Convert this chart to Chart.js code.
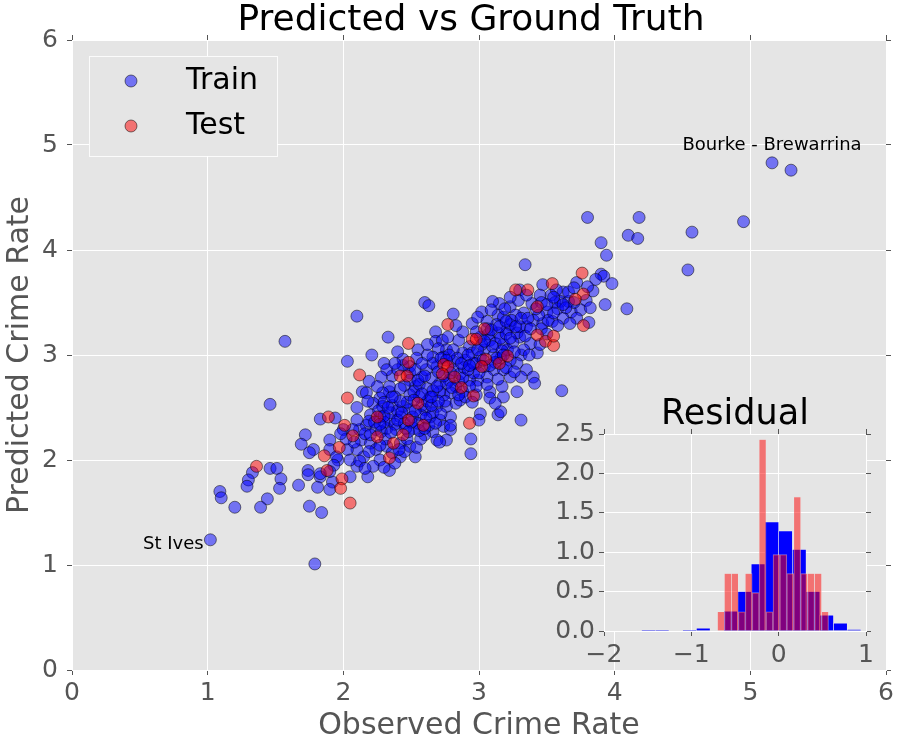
<!DOCTYPE html>
<html><head><meta charset="utf-8">
<script src="https://cdn.jsdelivr.net/npm/chart.js@4.4.1/dist/chart.umd.min.js"></script>
<style>
html,body{margin:0;padding:0;background:#ffffff;}
#wrap{position:relative;width:898px;height:744px;overflow:hidden;}
#main{position:absolute;left:0;top:0;}
#inset{position:absolute;left:530px;top:385px;}
</style></head><body>
<div id="wrap"><canvas id="main" width="898" height="744"></canvas><canvas id="inset" width="368" height="290"></canvas></div>
<script>
// ---------- data ----------
const chartTitle = 'Predicted vs Ground Truth';
const xAxisLabel = 'Observed Crime Rate';
const yAxisLabel = 'Predicted Crime Rate';
const seriesNames = ['Train', 'Test'];
const mainTicks = [0, 1, 2, 3, 4, 5, 6];

// [observed, predicted]
const trainPoints = [
[1.02,1.24],[1.79,1.01],[5.16,4.83],[5.30,4.76],[4.95,4.27],[4.57,4.17],[4.54,3.81],[4.18,4.31],[4.10,4.14],[4.17,4.11],
[3.80,4.31],[3.90,4.07],[3.94,3.95],[4.09,3.44],[3.34,3.86],[3.90,3.77],[3.92,3.75],[3.98,3.68],[3.72,3.69],[3.47,3.67],
[3.30,3.62],[3.84,3.61],[3.93,3.48],[3.81,3.31],[3.61,2.66],[3.31,2.38],
[1.57,3.13],[2.03,2.94],[1.46,2.53],[1.83,2.39],[1.94,2.40],[1.72,2.24],[1.69,2.15],[1.78,2.10],[1.75,2.07],[1.90,2.19],
[1.90,2.10],[1.96,2.00],[1.33,1.88],[1.30,1.81],[1.29,1.75],[1.46,1.92],[1.51,1.92],[1.54,1.82],[1.53,1.73],[1.09,1.70],
[1.10,1.64],[1.20,1.55],[1.44,1.63],[1.39,1.55],[1.67,1.76],[1.74,1.90],[1.74,1.86],[1.83,1.84],[1.81,1.74],[1.92,1.79],
[1.90,1.72],[1.75,1.56],[1.84,1.50],[2.10,3.37],[2.33,3.17],
[2.69,2.89],[2.49,2.83],[2.36,2.80],[2.53,2.70],[2.83,2.70],[2.74,2.62],[2.34,2.65],[2.27,2.59],
[2.22,2.54],[2.29,2.51],[2.36,2.52],[2.44,2.51],[2.49,2.48],[2.60,2.48],[2.69,2.51],[2.76,2.51],[2.83,2.54],[2.79,2.41],
[2.71,2.38],[2.64,2.41],[2.57,2.43],[2.42,2.41],[2.34,2.38],[2.27,2.41],[2.20,2.43],[2.17,2.33],[2.24,2.29],[2.32,2.30],
[2.39,2.29],[2.52,2.30],[2.66,2.27],[2.74,2.32],[2.79,2.29],[2.76,2.19],[2.69,2.19],[2.12,2.29],[2.13,2.19],[2.20,2.16],
[2.24,2.10],[2.32,2.13],[2.42,2.16],[2.49,2.13],[2.53,2.03],[2.42,2.03],[2.27,2.00],[2.15,2.03],[2.10,2.10],[2.03,2.10],
[1.95,2.03],[1.93,1.95],[1.90,1.89],[1.83,1.87],[2.00,2.29],[2.34,1.90],[2.22,1.94],[2.10,1.94],[2.05,1.84],[2.18,1.84],
[2.14,2.65],[2.17,2.64],[2.10,2.50],[2.10,2.38],
[2.60,3.50],[2.63,3.47],[2.81,3.39],[2.68,3.22],[2.21,3.00],[2.30,2.92],[2.32,2.86],[2.28,2.79],[2.55,3.05],[2.54,2.97],
[2.68,3.13],[2.73,3.14],[2.76,3.05],[2.85,3.14],[2.95,3.30],[3.02,3.41],[2.99,3.36],[3.15,3.49],[3.14,3.38],[3.18,3.36],
[3.23,3.46],[3.29,3.52],[3.33,3.40],[3.39,3.49],[3.40,3.33],[3.35,3.27],[3.30,3.17],[3.38,3.11],[3.43,3.02],[3.31,3.00],
[3.28,2.92],[3.35,2.86],[3.40,2.79],[3.31,2.79],[3.23,2.79],[3.21,3.24],[3.14,3.21],[3.08,3.14],[3.01,3.17],[2.93,3.08],
[3.04,3.05],[3.12,3.11],[3.18,3.10],[3.11,3.00],[3.16,2.97],[2.88,3.02],[2.81,3.05],[2.70,3.06],[2.66,2.98],[2.74,2.98],
[2.81,2.94],[2.90,2.95],[2.95,3.02],[2.98,2.92],[3.04,2.89],[3.11,2.86],[3.18,2.86],[3.06,2.79],[2.99,2.76],[2.93,2.76],
[2.85,2.75],[2.78,2.76],[2.71,2.73],[2.58,2.79],[2.49,2.76],[2.45,2.71],[2.42,2.68],[2.34,2.70],[2.29,2.64],[2.49,2.89],
[2.53,2.86],[2.44,2.90],[2.40,2.86],[2.79,2.64],[2.88,2.65],[2.98,2.62],[3.08,2.65],[3.18,2.60],[3.28,2.65],[2.49,2.62],
[2.38,2.60],[2.56,2.60],[2.64,2.60],
[3.62,3.60],[3.53,3.57],[3.60,3.51],[3.66,3.51],[3.58,3.44],[3.68,3.41],[3.75,3.43],[3.72,3.35],[3.62,3.35],[3.50,3.41],
[3.27,3.38],[3.47,3.30],[3.54,3.32],[3.23,3.29],[3.13,3.29],[3.06,3.32],[3.10,3.51],[3.35,3.57],[3.23,3.55],[3.45,3.57],
[3.41,2.73],[3.14,2.43],[3.16,2.46],[3.01,2.44],[3.00,2.38],[2.94,2.20],[2.94,2.06],[2.79,2.33],[3.08,2.59],[3.12,2.54],
[3.17,2.70],[2.98,2.70],[2.86,2.57],[2.96,2.83],[3.23,2.95],[3.33,3.05],[3.21,3.05],[3.01,2.98],[2.81,2.86],[2.76,2.73],
[2.54,2.12],[2.60,2.24],[2.71,2.17],
[2.05,2.00],[2.08,2.17],[2.16,2.25],[2.19,2.37],[2.26,2.47],[2.30,2.36],[2.28,2.27],[2.35,2.45],[2.38,2.34],[2.31,2.20],
[2.36,2.07],[2.19,2.08],[2.12,1.99],[2.27,2.14],[2.45,2.35],[2.40,2.47],[2.47,2.55],[2.51,2.41],[2.55,2.35],[2.58,2.52],
[2.62,2.56],[2.66,2.45],[2.63,2.33],[2.57,2.20],[2.47,2.20],[2.45,2.08],[2.38,1.97],[2.30,1.93],[2.16,1.92],[2.07,2.29],
[2.02,2.20],[1.98,2.25],
[2.52,2.65],[2.56,2.72],[2.62,2.68],[2.65,2.78],[2.61,2.86],[2.66,2.92],[2.72,2.97],[2.71,2.65],[2.75,2.56],[2.80,2.69],
[2.86,2.82],[2.89,2.88],[2.93,2.70],[2.90,2.60],[2.95,2.55],[2.84,2.97],[2.78,3.00],[2.62,3.00],[2.58,2.92],[2.44,2.96],
[2.38,2.92],[2.40,3.03],[2.62,3.10],[2.77,3.17],[2.88,3.22],[2.83,3.28],
[3.02,3.10],[3.07,3.20],[3.10,3.08],[3.16,3.16],[3.20,3.20],[3.25,3.12],[3.26,3.03],[3.28,3.21],[3.24,3.33],[3.30,3.27],
[3.34,3.18],[3.37,3.00],[3.45,3.10],[3.46,3.25],[3.50,3.20],[3.51,3.33],[3.44,3.38],[3.19,3.44],[3.09,3.43],[3.06,3.25],
[2.98,3.22],[3.12,2.93],[3.20,2.88],[3.26,2.84],[3.06,2.72],[3.14,2.77],
[3.56,3.50],[3.66,3.60],[3.70,3.50],[3.79,3.52],[3.82,3.45],[3.64,3.45],[3.55,3.40],[3.58,3.28],[3.67,3.30],[3.86,3.72],
[3.80,3.65],[3.70,3.64],[3.57,3.62],[3.46,3.50],
[2.18,2.56],[2.25,2.70],[2.19,2.75],[2.30,2.55],
[2.30,2.42],[2.33,2.50],[2.40,2.38],[2.43,2.45],[2.46,2.30],[2.50,2.36],[2.53,2.47],[2.56,2.28],[2.61,2.40],[2.65,2.52],
[2.68,2.35],[2.72,2.44],[2.70,2.56],[2.66,2.66],[2.69,2.70],[2.74,2.80],[2.79,2.83],[2.88,2.78],[2.92,2.86],[2.96,2.92],
[2.87,2.92],[2.92,3.00],[2.99,3.05],[3.04,3.13],[3.09,3.24],[3.15,3.27],[3.20,3.32],[3.17,3.04],[3.23,3.16],[3.27,3.27],
[3.31,3.35],[3.36,3.35],[3.03,2.95],[2.85,2.62],[2.58,2.63],[2.52,2.57],[2.42,2.56],[2.36,2.60],[2.23,2.36],[2.20,2.24],
[2.27,2.34],[2.35,2.26],[2.41,2.10],[2.48,2.27],[2.60,2.30],[2.65,2.60],[2.55,2.76],[2.60,2.80],[2.70,2.84],[2.76,2.95],
[2.93,2.90],[3.00,2.83],[3.08,2.90],[3.13,2.97],[3.18,3.00],[3.42,3.44],[3.50,3.48],[3.38,3.25],[3.55,3.55],[3.62,3.48]
];

const testPoints = [
[1.36,1.94],[1.89,2.41],[2.01,2.33],[2.03,2.59],[1.97,2.12],[1.86,2.04],[1.88,1.90],[1.99,1.82],[1.98,1.73],[2.05,1.59],
[2.12,2.81],[2.07,2.23],[2.25,2.41],[2.25,2.22],[2.34,2.02],[2.37,2.16],[2.44,2.24],[2.48,2.38],[2.59,2.33],[2.55,2.54],
[2.42,2.80],[2.47,2.80],[2.48,2.93],[2.48,3.11],[2.74,2.91],[2.77,2.89],[2.73,2.82],[2.82,2.79],[2.87,2.69],[2.96,2.61],
[2.93,2.35],[2.77,3.29],[2.95,3.15],[2.98,3.15],[3.04,3.25],[3.05,2.96],[3.02,2.89],[3.15,2.92],[3.21,2.99],[3.43,3.19],
[3.49,3.13],[3.55,3.09],[3.55,3.18],[3.43,3.46],[3.27,3.62],[3.36,3.62],[3.54,3.68],[3.76,3.78],[3.77,3.58],[3.71,3.53],
[3.77,3.28]
];

const annotations = [
  {text: 'Bourke - Brewarrina', x: 4.50, y: 5.00, align: 'left'},
  {text: 'St Ives', x: 0.97, y: 1.20, align: 'right'}
];

// residual histogram (density)
const insetTitle = 'Residual';
const trainBinCenters = [-1.4915,-1.3345,-1.1775,-1.0205,-0.8635,-0.7065,-0.5495,-0.3925,-0.2355,-0.0785,0.0785,0.2355,0.3925,0.5495,0.7065,0.8635];
const trainDensity    = [0.012,0.012,0,0.012,0.035,0,0.25,0.50,0.85,1.385,1.27,1.035,0.50,0.20,0.10,0.02];
const testBinCenters  = [-0.661,-0.582,-0.502,-0.423,-0.343,-0.264,-0.184,-0.105,-0.025,0.054,0.134,0.213,0.293,0.372,0.452,0.531];
const testDensity     = [0.243,0.73,0.73,0.243,0.73,0.486,2.43,0.243,0.97,0.97,0.73,1.70,0.73,0.73,0.73,0.243];
const histXTicks = [-2, -1, 0, 1];
const histYTicks = [0, 0.5, 1.0, 1.5, 2.0, 2.5];

// ---------- styling ----------
const FONT = "'DejaVu Sans', 'Liberation Sans', sans-serif";
Chart.defaults.font.family = FONT;
const GREY = '#555555';
const PANEL = '#e5e5e5';
const TRAIN_FILL = 'rgba(0,0,255,0.5)';
const TEST_FILL = 'rgba(255,0,0,0.5)';
const EDGE = 'rgba(0,0,0,0.5)';
const DOT = 6;

function setTicks(list) { return (scale) => { scale.ticks = list.map(v => ({value: v})); }; }

const panelBg = {
  id: 'panelBg',
  beforeDraw(chart) {
    const a = chart.chartArea, c = chart.ctx;
    c.save(); c.fillStyle = PANEL; c.fillRect(a.left, a.top, a.right - a.left, a.bottom - a.top); c.restore();
  }
};

function titlePlugin(text, size, baselineOffset, shift) {
  return {
    id: 'customTitle',
    afterDraw(chart) {
      const a = chart.chartArea, c = chart.ctx;
      c.save();
      c.font = size + 'px ' + FONT; c.fillStyle = '#000'; c.textAlign = 'center'; c.textBaseline = 'alphabetic';
      c.fillText(text, (a.left + a.right) / 2 + shift, a.top - baselineOffset);
      c.restore();
    }
  };
}

const legendBox = {
  id: 'legendBox',
  afterDraw(chart) {
    const a = chart.chartArea, c = chart.ctx;
    c.save();
    c.fillStyle = PANEL; c.strokeStyle = 'rgba(255,255,255,0.85)'; c.lineWidth = 1;
    c.fillRect(a.left + 17, a.top + 16, 188, 100);
    c.strokeRect(a.left + 17.5, a.top + 16.5, 188, 100);
    const rows = [[TRAIN_FILL, 41], [TEST_FILL, 86]];
    rows.forEach((r, i) => {
      c.beginPath(); c.arc(a.left + 59, a.top + r[1], DOT, 0, Math.PI * 2);
      c.fillStyle = r[0]; c.fill(); c.strokeStyle = EDGE; c.lineWidth = 1; c.stroke();
      c.fillStyle = '#000'; c.font = '30px ' + FONT; c.textAlign = 'left'; c.textBaseline = 'middle';
      c.fillText(seriesNames[i], a.left + 114, a.top + r[1]);
    });
    c.restore();
  }
};

const annotate = {
  id: 'annotate',
  afterDatasetsDraw(chart) {
    const c = chart.ctx, sx = chart.scales.x, sy = chart.scales.y;
    c.save(); c.font = '18px ' + FONT; c.fillStyle = '#000'; c.textBaseline = 'middle';
    annotations.forEach(n => { c.textAlign = n.align; c.fillText(n.text, sx.getPixelForValue(n.x), sy.getPixelForValue(n.y)); });
    c.restore();
  }
};

const tickOnly = (pos, list, size) => ({
  type: 'linear', position: pos,
  min: list[0], max: list[list.length - 1],
  afterBuildTicks: setTicks(list),
  afterFit: (s) => { if (pos === 'top' || pos === 'bottom') s.height = size; else s.width = size; },
  grid: {drawOnChartArea: false, color: '#fff', tickColor: GREY, tickLength: 5, offset: false},
  border: {display: false},
  ticks: {display: false},
  offset: false
});

new Chart(document.getElementById('main'), {
  type: 'scatter',
  data: {
    datasets: [
      {label: seriesNames[0], data: trainPoints.map(p => ({x: p[0], y: p[1]})), order: 2,
       backgroundColor: TRAIN_FILL, borderColor: EDGE, borderWidth: 1, pointRadius: DOT, pointHoverRadius: DOT},
      {label: seriesNames[1], data: testPoints.map(p => ({x: p[0], y: p[1]})), order: 1,
       backgroundColor: TEST_FILL, borderColor: EDGE, borderWidth: 1, pointRadius: DOT, pointHoverRadius: DOT}
    ]
  },
  options: {
    responsive: false, animation: false, events: [],
    layout: {padding: 0},
    plugins: {legend: {display: false}, tooltip: {enabled: false}, title: {display: false}},
    scales: {
      x: {type: 'linear', position: 'bottom', min: 0, max: 6,
          afterBuildTicks: setTicks(mainTicks), afterFit: (s) => { s.height = 74; },
          grid: {color: '#ffffff', lineWidth: 1, tickColor: GREY, tickLength: 5},
          border: {display: true, color: '#ffffff'},
          ticks: {color: GREY, font: {size: 25}, padding: 3, maxRotation: 0},
          title: {display: true, text: xAxisLabel, color: GREY, font: {size: 30}, padding: 0}},
      y: {type: 'linear', position: 'left', min: 0, max: 6,
          afterBuildTicks: setTicks(mainTicks), afterFit: (s) => { s.width = 72; },
          grid: {color: '#ffffff', lineWidth: 1, tickColor: GREY, tickLength: 5},
          border: {display: true, color: '#ffffff'},
          ticks: {color: GREY, font: {size: 25}, padding: 9},
          title: {display: true, text: yAxisLabel, color: GREY, font: {size: 30}, padding: {top: 2, bottom: 0}}},
      x2: tickOnly('top', mainTicks, 40),
      y2: tickOnly('right', mainTicks, 12)
    }
  },
  plugins: [panelBg, titlePlugin(chartTitle, 36, 10, -8), legendBox, annotate]
});

new Chart(document.getElementById('inset'), {
  type: 'bar',
  data: {
    datasets: [
      {label: 'Train residual', data: trainBinCenters.map((c, i) => ({x: c, y: trainDensity[i]})),
       xAxisID: 'x', yAxisID: 'y', order: 2, grouped: false, barPercentage: 1, categoryPercentage: 1,
       backgroundColor: '#0000ff', borderColor: 'rgba(238,238,238,0.7)', borderWidth: 0.6},
      {label: 'Test residual', data: testBinCenters.map((c, i) => ({x: c, y: testDensity[i]})),
       xAxisID: 'xr', yAxisID: 'y', order: 1, grouped: false, barPercentage: 1, categoryPercentage: 1,
       backgroundColor: TEST_FILL, borderColor: 'rgba(238,238,238,0.5)', borderWidth: 0.6}
    ]
  },
  options: {
    responsive: false, animation: false, events: [],
    layout: {padding: 0},
    plugins: {legend: {display: false}, tooltip: {enabled: false}, title: {display: false}},
    scales: {
      x: {type: 'linear', position: 'bottom', min: -2, max: 1, offset: false,
          afterBuildTicks: setTicks(histXTicks), afterFit: (s) => { s.height = 44; },
          grid: {color: '#ffffff', offset: false, tickColor: GREY, tickLength: 5},
          border: {display: true, color: '#ffffff'},
          ticks: {color: GREY, font: {size: 25}, padding: 4, maxRotation: 0,
                  callback: (v) => (v < 0 ? '\u2212' + Math.abs(v) : String(v))}},
      xr: {type: 'linear', display: false, min: -2, max: 1, offset: false, grid: {offset: false}},
      y: {type: 'linear', position: 'left', min: 0, max: 2.5,
          afterBuildTicks: setTicks(histYTicks), afterFit: (s) => { s.width = 74; },
          grid: {color: '#ffffff', tickColor: GREY, tickLength: 5},
          border: {display: true, color: '#ffffff'},
          ticks: {color: GREY, font: {size: 25}, padding: 4, callback: (v) => Number(v).toFixed(1)}},
      x2: tickOnly('top', histXTicks, 49),
      y2: tickOnly('right', histYTicks, 32)
    }
  },
  plugins: [panelBg, titlePlugin(insetTitle, 35, 10, 0)]
});
</script>
</body></html>
